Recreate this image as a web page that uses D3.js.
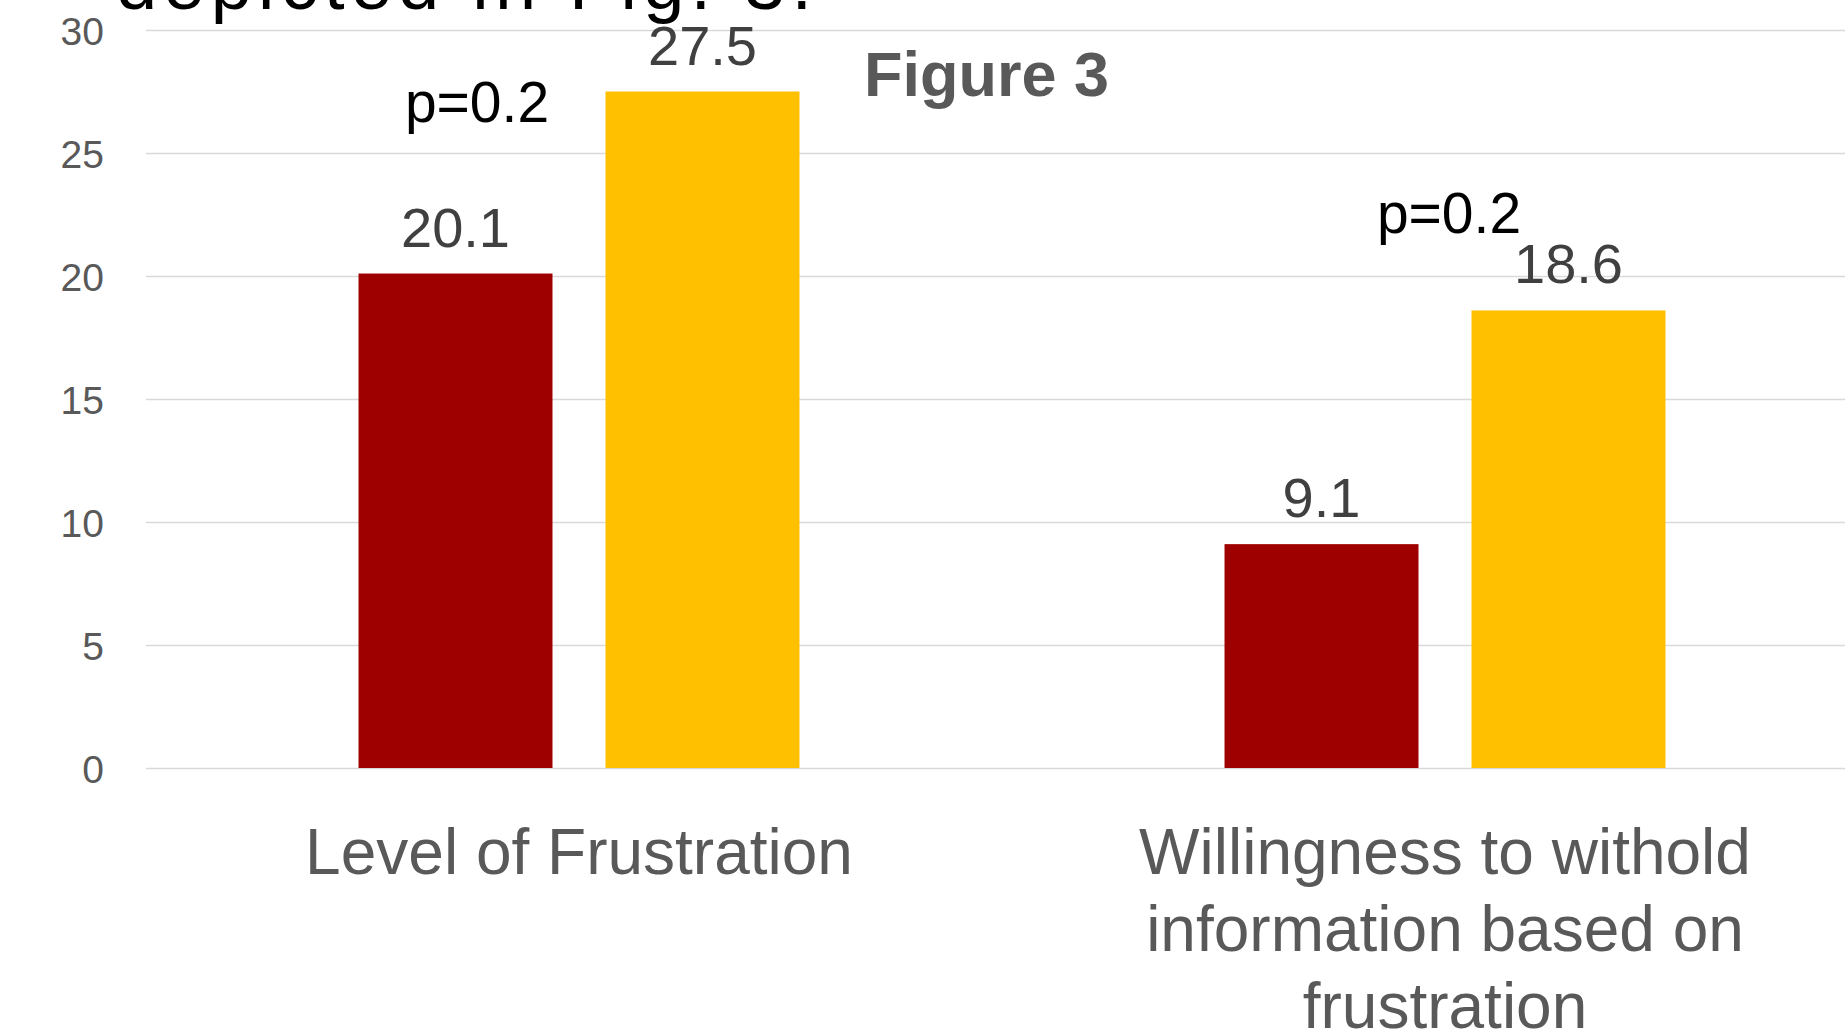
<!DOCTYPE html>
<html>
<head>
<meta charset="utf-8">
<script src="https://cdn.jsdelivr.net/npm/d3@7"></script>
<style>
  html, body { margin: 0; padding: 0; background: #fff; overflow: hidden; }
  svg { display: block; font-family: "Liberation Sans", Arial, Helvetica, sans-serif; }
</style>
</head>
<body>
<script>
// Chart data
const categories = ["Level of Frustration", "Willingness to withold information based on frustration"];
const categoryLines = [["Level of Frustration"], ["Willingness to withold", "information based on", "frustration"]];
const seriesNames = ["Group A", "Group B"];
const seriesA = [20.1, 9.1];
const seriesB = [27.5, 18.6];
const yTicks = [0, 5, 10, 15, 20, 25, 30];
const pLabels = ["p=0.2", "p=0.2"];
const seriesColors = ["#9e0000", "#ffc000"];

const W = 1845, H = 1031;
const svg = d3.select("body").append("svg").attr("width", W).attr("height", H);

const rows = categories.map((c, i) => ({ cat: c, values: [seriesA[i], seriesB[i]] }));

const x0 = d3.scaleBand().domain(categories).range([146, 1878])
  .paddingInner(0.4908).paddingOuter(0.2454);
const x1 = d3.scaleBand().domain(seriesNames).range([0, x0.bandwidth()])
  .paddingInner(0.2146).paddingOuter(0);
const y = d3.scaleLinear().domain([0, 30]).range([768, 30]);

// Slide text running off the top edge
svg.append("text").attr("x", 116).attr("y", 9)
  .attr("font-size", 74).attr("fill", "#000")
  .attr("textLength", 696).attr("lengthAdjust", "spacing")
  .text("depicted in Fig. 3.");

// Horizontal gridlines and y tick labels
const yAxis = d3.axisLeft(y).tickValues(yTicks).tickSize(-(1878 - 146)).tickPadding(42);
const gy = svg.append("g").attr("transform", "translate(146,0)").call(yAxis);
gy.select(".domain").remove();
gy.selectAll(".tick line").attr("stroke", "#d9d9d9").attr("stroke-width", 1.6);
gy.selectAll(".tick text").attr("fill", "#595959").attr("font-size", 39)
  .attr("font-family", "Liberation Sans, Arial, sans-serif").attr("dy", "0.36em");

// Bars
const groups = svg.append("g").selectAll("g").data(rows).join("g")
  .attr("transform", d => `translate(${x0(d.cat)},0)`);
groups.selectAll("rect").data(d => d.values.map((v, j) => ({ v, s: seriesNames[j], j })))
  .join("rect")
  .attr("x", d => x1(d.s)).attr("width", x1.bandwidth())
  .attr("y", d => y(d.v)).attr("height", d => y(0) - y(d.v))
  .attr("fill", d => seriesColors[d.j]);

// Value labels
groups.selectAll("text.val").data(d => d.values.map((v, j) => ({ v, s: seriesNames[j] })))
  .join("text").attr("class", "val")
  .attr("x", d => x1(d.s) + x1.bandwidth() / 2).attr("y", d => y(d.v) - 27)
  .attr("text-anchor", "middle").attr("font-size", 56).attr("fill", "#404040")
  .text(d => d3.format(".1f")(d.v));

// p-value annotations
const pPos = [{ dx: -102, yv: 26.26 }, { dx: 4, yv: 21.75 }];
svg.append("g").selectAll("text").data(pLabels).join("text")
  .attr("x", (d, i) => x0(categories[i]) + x0.bandwidth() / 2 + pPos[i].dx)
  .attr("y", (d, i) => y(pPos[i].yv))
  .attr("text-anchor", "middle").attr("font-size", 57).attr("fill", "#000")
  .text(d => d);

// Figure title
svg.append("text").attr("x", 864).attr("y", 96).attr("font-size", 63)
  .attr("font-weight", "bold").attr("fill", "#595959").text("Figure 3");

// Category labels
const catG = svg.append("g").selectAll("text").data(categories).join("text")
  .attr("x", d => x0(d) + x0.bandwidth() / 2).attr("y", 874)
  .attr("text-anchor", "middle").attr("font-size", 64).attr("fill", "#595959");
catG.selectAll("tspan").data((d, i) => categoryLines[i]).join("tspan")
  .attr("x", function () { return d3.select(this.parentNode).attr("x"); })
  .attr("dy", (d, i) => i === 0 ? 0 : 77).text(d => d);

// Heading running off the bottom edge
svg.append("text").attr("x", 728).attr("y", 1093).attr("font-size", 85)
  .attr("font-weight", "bold").attr("fill", "#1a1a1a").text("Methods");
</script>
</body>
</html>
